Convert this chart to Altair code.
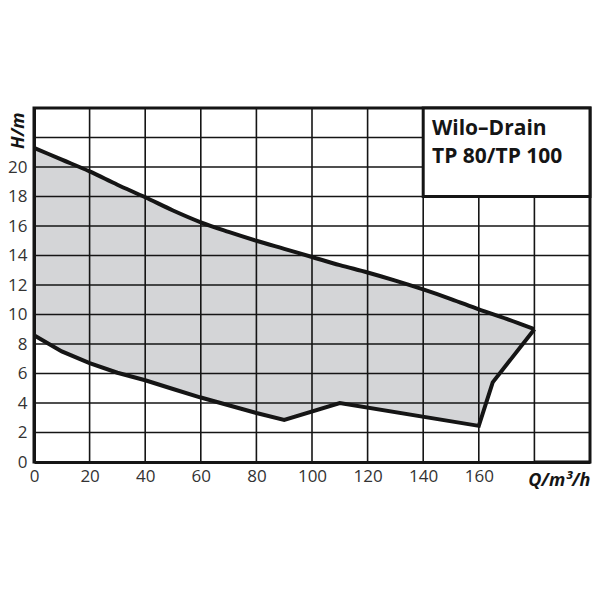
import altair as alt
import pandas as pd

# pump curve envelope (Q in m³/h, H in m)
upper_q = [0, 10, 20, 30, 40, 50, 60, 70, 80, 90, 100, 110, 120, 130, 140, 150, 160, 170, 180]
upper_h = [21.3, 20.5, 19.7, 18.8, 17.95, 17.05, 16.25, 15.6, 15.0, 14.45, 13.9, 13.35,
           12.85, 12.3, 11.7, 11.05, 10.35, 9.7, 9.0]
lower_q = [0, 10, 20, 30, 40, 50, 60, 70, 80, 90, 110, 160, 165, 180]
lower_h = [8.6, 7.5, 6.7, 6.05, 5.54, 4.95, 4.37, 3.85, 3.32, 2.85, 4.0, 2.45, 5.4, 9.0]

q_ticks = [0, 20, 40, 60, 80, 100, 120, 140, 160]
h_ticks = [0, 2, 4, 6, 8, 10, 12, 14, 16, 18, 20]
q_grid = [20, 40, 60, 80, 100, 120, 140, 160, 180]
h_grid = [2, 4, 6, 8, 10, 12, 14, 16, 18, 20, 22]

box_q = [140, 200]
box_h = [18, 24]
box_lines = ['Wilo–Drain', 'TP 80/TP 100']

upper = pd.DataFrame({'q': upper_q, 'h': upper_h})
lower = pd.DataFrame({'q': lower_q, 'h': lower_h})
box = pd.DataFrame({'q': [box_q[0]], 'q2': [box_q[1]], 'h': [box_h[0]], 'h2': [box_h[1]]})

FONT = 'Open Sans'
INK = '#151515'
W, H = 556, 354

x_scale = alt.Scale(domain=[0, 200], nice=False, zero=False)
y_scale = alt.Scale(domain=[0, 24], nice=False, zero=False)

x_axis = alt.Axis(
    values=q_ticks, grid=False, ticks=False, domain=True, domainColor=INK, domainWidth=3,
    labelFont=FONT, labelFontSize=17, labelColor='#333', labelPadding=6, labelFlush=False,
    title='Q/m³/h', titleFont=FONT, titleFontSize=18, titleFontWeight='bold',
    titleFontStyle='italic', titleColor=INK, titleX=W, titleY=23,
    titleAlign='right', titleBaseline='alphabetic', zindex=1,
)
y_axis = alt.Axis(
    values=h_ticks, grid=False, ticks=False, domain=True, domainColor=INK, domainWidth=3,
    labelFont=FONT, labelFontSize=17, labelColor='#333', labelPadding=7,
    labelBaseline='middle', labelFlush=False,
    title='H/m', titleFont=FONT, titleFontSize=18, titleFontWeight='bold',
    titleFontStyle='italic', titleColor=INK, titleAngle=270, titleX=-16, titleY=4,
    titleAlign='right', titleBaseline='middle', zindex=1,
)

X = alt.X('q:Q', scale=x_scale, axis=x_axis)
Y = alt.Y('h:Q', scale=y_scale, axis=y_axis)

# grey under the upper curve, white under the lower one -> band between them
grey = alt.Chart(upper).mark_area(color='#d4d5d7', interpolate='monotone').encode(x=X, y=Y)
white = alt.Chart(lower).mark_area(color='white', interpolate='linear').encode(x=X, y=Y)

vgrid = alt.Chart(pd.DataFrame({'q': q_grid})).mark_rule(
    color=INK, strokeWidth=1.6).encode(x=X)
hgrid = alt.Chart(pd.DataFrame({'h': h_grid})).mark_rule(
    color=INK, strokeWidth=1.6).encode(y=Y)

upper_line = alt.Chart(upper).mark_line(
    color=INK, strokeWidth=4, interpolate='monotone').encode(x=X, y=Y, order='q:Q')
lower_line = alt.Chart(lower).mark_line(
    color=INK, strokeWidth=4, strokeJoin='miter').encode(x=X, y=Y, order='q:Q')

frame_box = alt.Chart(box).mark_rect(
    fill='white', stroke=INK, strokeWidth=3).encode(x=X, x2='q2:Q', y=Y, y2='h2:Q')

title1 = alt.Chart(pd.DataFrame({'t': [box_lines[0]]})).mark_text(
    font=FONT, fontSize=21, fontWeight='bold', color=INK, align='left', baseline='alphabetic'
).encode(text='t:N', x=alt.value(398), y=alt.value(27))
title2 = alt.Chart(pd.DataFrame({'t': [box_lines[1]]})).mark_text(
    font=FONT, fontSize=21, fontWeight='bold', color=INK, align='left', baseline='alphabetic'
).encode(text='t:N', x=alt.value(398), y=alt.value(55))

chart = (
    alt.layer(grey, white, vgrid, hgrid, upper_line, lower_line, frame_box, title1, title2)
    .properties(
        width=W, height=H,
        autosize=alt.AutoSizeParams(type='none'),
        padding={'left': 26, 'top': 100, 'right': 2, 'bottom': 40},
    )
    .configure_view(stroke=INK, strokeWidth=3)
)

chart.save('out.html', embed_options={'renderer': 'svg', 'actions': False})
